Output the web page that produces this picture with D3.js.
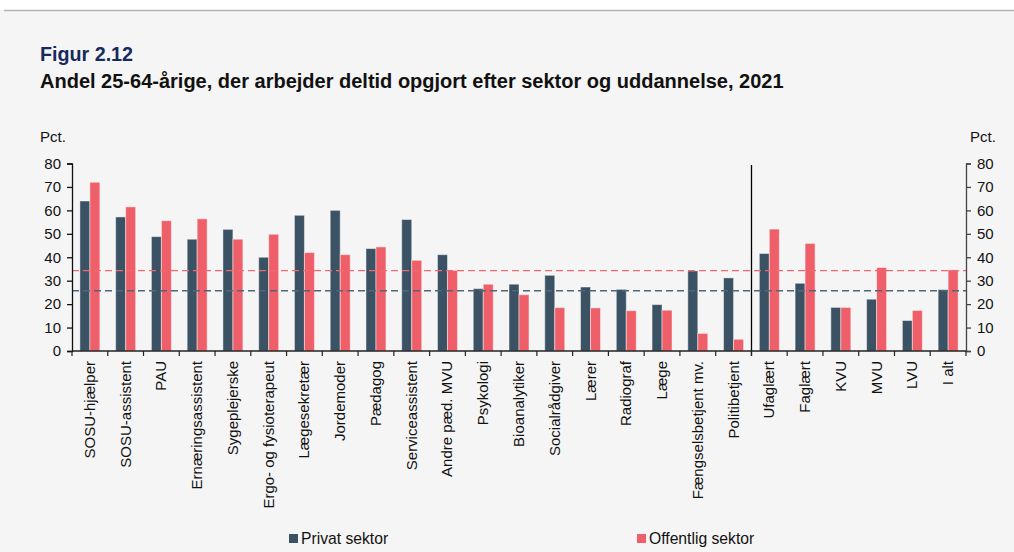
<!DOCTYPE html>
<html>
<head>
<meta charset="utf-8">
<script src="https://cdn.jsdelivr.net/npm/d3@7"></script>
<style>
  body { margin: 0; background: #ffffff; }
  svg { display: block; font-family: "Liberation Sans", Arial, sans-serif; }
</style>
</head>
<body>
<svg id="chart" width="1014" height="552"></svg>
<script>
const categories = ["SOSU-hjælper", "SOSU-assistent", "PAU", "Ernæringsassistent", "Sygeplejerske",
  "Ergo- og fysioterapeut", "Lægesekretær", "Jordemoder", "Pædagog", "Serviceassistent",
  "Andre pæd. MVU", "Psykologi", "Bioanalytiker", "Socialrådgiver", "Lærer", "Radiograf", "Læge",
  "Fængselsbetjent mv.", "Politibetjent", "Ufaglært", "Faglært", "KVU", "MVU", "LVU", "I alt"];
const privat = [64.0, 57.2, 48.8, 47.7, 51.9, 40.0, 57.9, 60.0, 43.7, 56.1, 41.1, 26.6, 28.5,
  32.3, 27.3, 26.3, 19.8, 34.2, 31.2, 41.6, 28.9, 18.6, 22.1, 13.0, 26.2];
const offentlig = [72.0, 61.5, 55.6, 56.4, 47.7, 49.8, 42.0, 41.1, 44.4, 38.7, 34.4, 28.5, 24.0,
  18.5, 18.4, 17.2, 17.4, 7.5, 5.0, 52.0, 45.9, 18.6, 35.6, 17.3, 34.6];
const avgPrivat = 25.7;
const avgOffentlig = 34.3;
const seriesNames = ["Privat sektor", "Offentlig sektor"];
const yTicks = [0, 10, 20, 30, 40, 50, 60, 70, 80];

const colors = { "Privat sektor": "#3b5264", "Offentlig sektor": "#ef5f69" };
const svg = d3.select("#chart");

// panel background + top rule
svg.append("rect").attr("x", 0).attr("y", 10).attr("width", 1014).attr("height", 542).attr("fill", "#f5f5f5");
svg.append("line").attr("x1", 4).attr("x2", 1014).attr("y1", 10.5).attr("y2", 10.5)
  .attr("stroke", "#b4b4b4").attr("stroke-width", 1.5);

svg.append("text").attr("x", 40).attr("y", 61).text("Figur 2.12")
  .style("font-size", "19.7px").style("font-weight", "bold").attr("fill", "#172a5e");
svg.append("text").attr("x", 40).attr("y", 88)
  .text("Andel 25-64-årige, der arbejder deltid opgjort efter sektor og uddannelse, 2021")
  .style("font-size", "20px").style("font-weight", "bold").attr("fill", "#111");

const plotLeft = 72, plotRight = 966, plotTop = 163.5, plotBottom = 351;

const x = d3.scaleBand().domain(categories).range([plotLeft, plotRight]).padding(0);
const xs = d3.scaleBand().domain(seriesNames).range([0, x.bandwidth()]).paddingOuter(0.79).paddingInner(0);
const y = d3.scaleLinear().domain([0, 80]).range([plotBottom, plotTop]);

const rows = categories.map((c, i) => ({ cat: c, values: [
  { name: "Privat sektor", v: privat[i] },
  { name: "Offentlig sektor", v: offentlig[i] }
] }));

const groups = svg.append("g").selectAll("g").data(rows).enter().append("g")
  .attr("transform", d => "translate(" + x(d.cat) + ",0)");
groups.selectAll("rect").data(d => d.values).enter().append("rect")
  .attr("x", d => xs(d.name))
  .attr("width", xs.bandwidth())
  .attr("y", d => y(d.v))
  .attr("height", d => y(0) - y(d.v))
  .attr("fill", d => colors[d.name])
  .attr("stroke", "rgba(255,255,255,0.45)")
  .attr("stroke-width", 1);

// average lines
svg.append("line").attr("x1", plotLeft).attr("x2", plotRight)
  .attr("y1", y(avgOffentlig)).attr("y2", y(avgOffentlig))
  .attr("stroke", "#f26770").attr("stroke-width", 1.3).attr("stroke-dasharray", "7,4");
svg.append("line").attr("x1", plotLeft).attr("x2", plotRight)
  .attr("y1", y(avgPrivat)).attr("y2", y(avgPrivat))
  .attr("stroke", "#50667a").attr("stroke-width", 1.3).attr("stroke-dasharray", "7,4");

// separator between professions and education level
const sepX = Math.round(x("Ufaglært")) + 0.5;
svg.append("line").attr("x1", sepX).attr("x2", sepX).attr("y1", 165).attr("y2", 356)
  .attr("stroke", "#000").attr("stroke-width", 1.3);

// axes
const yLeft = svg.append("g").attr("transform", "translate(" + plotLeft + ",0)")
  .call(d3.axisLeft(y).tickValues(yTicks).tickSize(5).tickPadding(6));
const yRight = svg.append("g").attr("transform", "translate(" + plotRight + ",0)")
  .call(d3.axisRight(y).tickValues(yTicks).tickSize(5).tickPadding(6));
[yLeft, yRight].forEach(g => {
  g.selectAll("text").style("font-size", "15px").attr("fill", "#111");
  g.attr("font-family", null);
});
yLeft.selectAll("path, line").attr("stroke", "#111").attr("stroke-width", 1.3);
yRight.selectAll("path, line").attr("stroke", "#444").attr("stroke-width", 1.3);

const xAxis = svg.append("g").attr("transform", "translate(0," + plotBottom + ")");
xAxis.append("line").attr("x1", plotLeft).attr("x2", plotRight).attr("y1", 0).attr("y2", 0)
  .attr("stroke", "#222").attr("stroke-width", 1.3);
xAxis.selectAll("line.tick").data(d3.range(categories.length + 1)).enter().append("line")
  .attr("class", "tick")
  .attr("x1", i => plotLeft + i * x.step()).attr("x2", i => plotLeft + i * x.step())
  .attr("y1", 0).attr("y2", 5).attr("stroke", "#222").attr("stroke-width", 1.2);
xAxis.selectAll("text").data(categories).enter().append("text")
  .attr("transform", d => "translate(" + (x(d) + x.bandwidth() / 2 + 5) + ",10) rotate(-90)")
  .attr("text-anchor", "end")
  .style("font-size", "15px").attr("fill", "#111")
  .text(d => d);

svg.append("text").attr("x", 40).attr("y", 142).text("Pct.").style("font-size", "15px").attr("fill", "#111");
svg.append("text").attr("x", 970).attr("y", 142).text("Pct.").style("font-size", "15px").attr("fill", "#111");

// legend
const legendX = { "Privat sektor": 289, "Offentlig sektor": 637 };
const legend = svg.append("g").selectAll("g").data(seriesNames).enter().append("g")
  .attr("transform", d => "translate(" + legendX[d] + ",534)");
legend.append("rect").attr("width", 9).attr("height", 9).attr("fill", d => colors[d]);
legend.append("text").attr("x", 12).attr("y", 10).text(d => d)
  .style("font-size", "15.7px").attr("fill", "#111");
</script>
</body>
</html>
